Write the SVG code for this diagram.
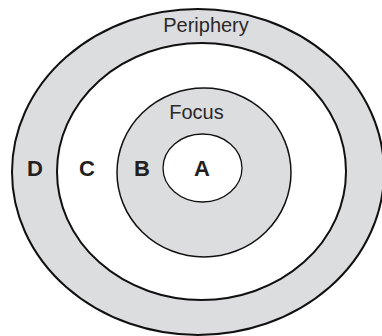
<svg xmlns="http://www.w3.org/2000/svg" width="382" height="336" viewBox="0 0 382 336">
<style>
.ring{stroke:#111;fill:#dcdddf}
.white{fill:#fff}
.lbl{font-family:"Liberation Sans",Arial,sans-serif;font-size:20px;fill:#2b2829;text-anchor:middle}
.big{font-family:"Liberation Sans",Arial,sans-serif;font-size:22px;font-weight:bold;fill:#231f20;text-anchor:middle}
</style>
<rect width="382" height="336" fill="#fff"/>
<g id="D">
<ellipse class="ring" cx="198" cy="172" rx="186" ry="163" stroke-width="2"/>
<text class="lbl" x="206" y="32">Periphery</text>
<text class="big" x="35" y="176">D</text>
</g>
<g id="C">
<ellipse class="ring white" cx="201.5" cy="171.5" rx="144.5" ry="128.5" stroke-width="2"/>
<text class="big" x="87" y="176">C</text>
</g>
<g id="B">
<ellipse class="ring" cx="204" cy="172.5" rx="87" ry="84.5" stroke-width="1.5"/>
<text class="lbl" x="196.5" y="119">Focus</text>
<text class="big" x="142" y="176">B</text>
</g>
<g id="A">
<ellipse class="ring white" cx="202.5" cy="168" rx="39.5" ry="34" stroke-width="1.3"/>
<text class="big" x="202" y="176">A</text>
</g>
</svg>
